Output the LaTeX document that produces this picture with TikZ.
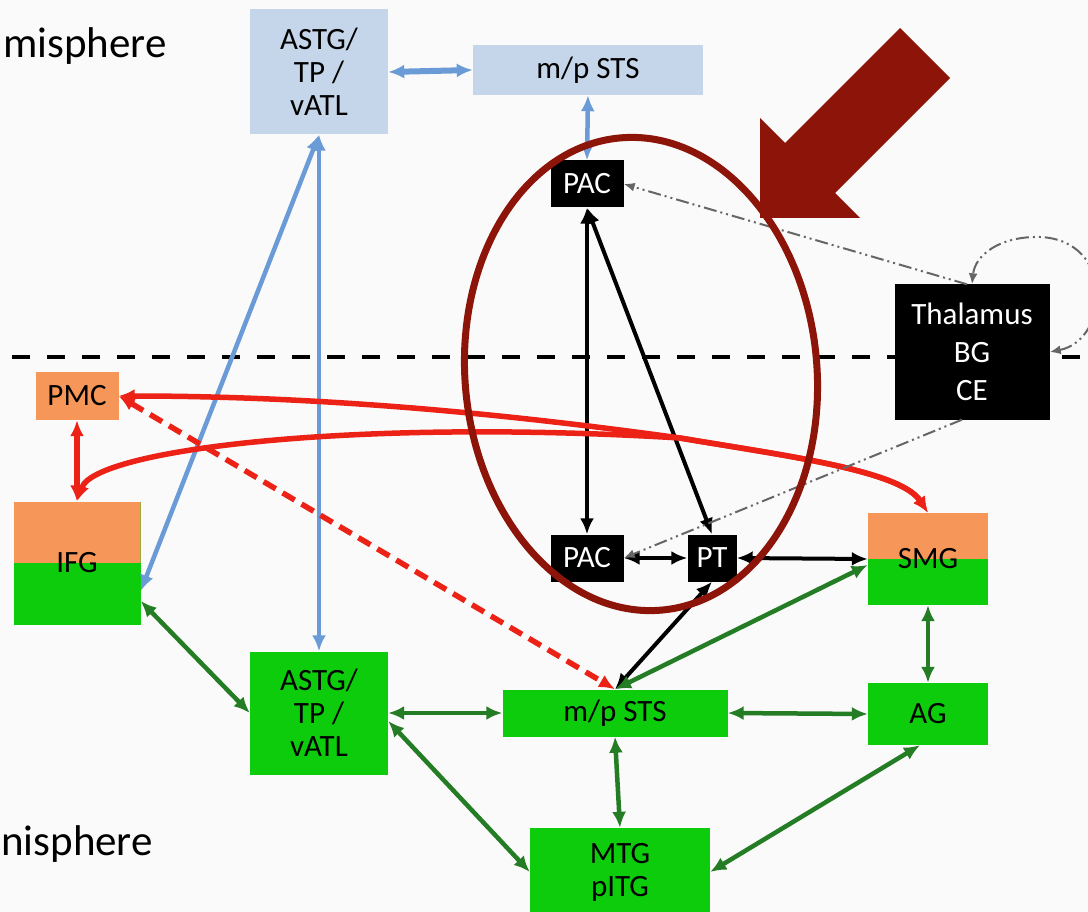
\documentclass[tikz,border=0pt]{standalone}
\usepackage{fontspec}
\setmainfont{Carlito}
\usetikzlibrary{arrows.meta}

\definecolor{lightblue}{RGB}{198,214,234}
\definecolor{linkblue}{RGB}{106,155,214}
\definecolor{brightgreen}{RGB}{12,204,12}
\definecolor{linkgreen}{RGB}{36,124,36}
\definecolor{paleorange}{RGB}{246,150,88}
\definecolor{linkred}{RGB}{236,34,22}
\definecolor{focusred}{RGB}{140,20,8}

\tikzstyle{box}=[rectangle, inner sep=0pt, align=center, font=\fontsize{31}{33}\selectfont]
\tikzstyle{bluebox}=[box, fill=lightblue]
\tikzstyle{greenbox}=[box, fill=brightgreen]
\tikzstyle{orangebox}=[box, fill=paleorange]
\tikzstyle{blackbox}=[box, fill=black, text=white]
\tikzstyle{splitbox}=[box, fill=brightgreen,
    path picture={\fill[paleorange] (path picture bounding box.north west) rectangle (path picture bounding box.east);}]
\tikzstyle{sidelabel}=[inner sep=0pt, font=\fontsize{43}{48}\selectfont]

\tikzstyle{link}=[<->, >={Latex[length=16pt,width=14pt]}]
\tikzstyle{bluelink}=[link, draw=linkblue, line width=4.5pt]
\tikzstyle{blacklink}=[link, draw=black, line width=4pt]
\tikzstyle{greenlink}=[link, draw=linkgreen, line width=4.5pt]
\tikzstyle{redlink}=[link, draw=linkred, line width=5.5pt]
\tikzstyle{reddashed}=[redlink, dash pattern=on 14pt off 8pt]
\tikzstyle{feedback}=[draw=black!60, line width=2pt, >={Latex[length=11pt,width=9pt]},
    dash pattern=on 13pt off 4pt on 2pt off 4pt on 2pt off 4pt]
\tikzstyle{midline}=[draw=black, line width=4.5pt, dash pattern=on 18pt off 17pt]

\begin{document}
\begin{tikzpicture}[x=1pt,y=-1pt]

    \useasboundingbox (0,0) rectangle (1088,912);
    \fill[white!98!black] (0,0) rectangle (1088,912);

    \draw[midline] (12,357) -- (1088,357);

    \node[sidelabel, anchor=base west] (upper) at ( 3, 58) {misphere};
    \node[sidelabel, anchor=base west] (lower) at ( 1,855) {nisphere};

    \node[bluebox,   minimum width=138, minimum height=125] (astgtop) at (319, 72) {ASTG/\\TP /\\vATL};
    \node[bluebox,   minimum width=230, minimum height= 50] (ststop)  at (588, 70) {m/p STS};
    \node[blackbox,  minimum width= 73, minimum height= 47] (pactop)  at (587,184) {PAC};
    \node[blackbox,  minimum width=155, minimum height=135, font=\fontsize{31}{38}\selectfont]
                                                            (thal)    at (972,352) {Thalamus\\BG\\CE};

    \node[orangebox, minimum width= 83, minimum height= 48] (pmc)     at ( 77,396) {PMC};
    \node[splitbox,  minimum width=127, minimum height=123] (ifg)     at ( 77,563) {IFG};
    \node[blackbox,  minimum width= 73, minimum height= 47] (pacbot)  at (587,558) {PAC};
    \node[blackbox,  minimum width= 49, minimum height= 47] (pt)      at (712,558) {PT};
    \node[splitbox,  minimum width=120, minimum height= 92] (smg)     at (928,559) {SMG};

    \node[greenbox,  minimum width=138, minimum height=123] (astgbot) at (319,713) {ASTG/\\TP /\\vATL};
    \node[greenbox,  minimum width=225, minimum height= 47] (stsbot)  at (615,713) {m/p STS};
    \node[greenbox,  minimum width=120, minimum height= 62] (ag)      at (928,714) {AG};
    \node[greenbox,  minimum width=180, minimum height= 88] (mtg)     at (620,872) {MTG\\pITG};

    \coordinate (merge) at (680,438);

    \draw[bluelink, line width=6pt] (astgtop.east) -- (ststop.west);
    \draw[bluelink] (ststop.south)  -- (pactop.north);
    \draw[bluelink] (astgtop.south) -- (astgbot.north);
    \draw[bluelink] (astgtop.south) -- ([yshift=-28pt]ifg.east);

    \draw[blacklink] (pactop.south) -- (pacbot.north);
    \draw[blacklink] (pactop.south) -- (pt.north);
    \draw[blacklink] (pacbot.east)  -- (pt.west);
    \draw[blacklink] (pt.east)      -- (smg.west);
    \draw[blacklink] (pt.south)     -- (stsbot.north);

    \draw[greenlink] ([yshift=-38pt]ifg.east)    -- (astgbot.west);
    \draw[greenlink] (astgbot.east)               -- (stsbot.west);
    \draw[greenlink] ([yshift=-8pt]astgbot.east)  -- (mtg.west);
    \draw[greenlink] (stsbot.east)                -- (ag.west);
    \draw[greenlink] (stsbot.south)               -- (mtg.north);
    \draw[greenlink] ([xshift=-8pt]ag.south)      -- (mtg.east);
    \draw[greenlink] (smg.south)                  -- (ag.north);
    \draw[greenlink] (stsbot.north)               -- ([yshift=-6pt]smg.west);

    \draw[redlink] (pmc.south) -- (ifg.north);
    \draw[redlink] (pmc.east)  .. controls (350,396) and (550,420) .. (merge)
                               .. controls (780,455) and (900,470) .. (smg.north);
    \draw[redlink] (ifg.north) .. controls ( 95,450) and (350,418) .. (merge)
                               .. controls (780,455) and (900,470) .. (smg.north);
    \draw[reddashed] (pmc.east) -- (stsbot.north);

    \fill[focusred] (900,28) -- (950,78) -- (835,193) -- (860,218)
                    -- (760,218) -- (760,118) -- (785,143) -- cycle;

    \draw[feedback, ->] ([xshift=-5pt]thal.north)  -- (pactop.east);
    \draw[feedback, ->] ([xshift=-10pt]thal.south) -- (pacbot.east);
    \draw[feedback, <->] (thal.east) .. controls (1110,340) and (1115,240) .. (1040,237)
                                     .. controls (1000,236) and (975,255) .. (thal.north);

    \draw[focusred, line width=7pt, rotate around={5:(641,374)}] (641,374) ellipse (176 and 237);

\end{tikzpicture}
\end{document}
